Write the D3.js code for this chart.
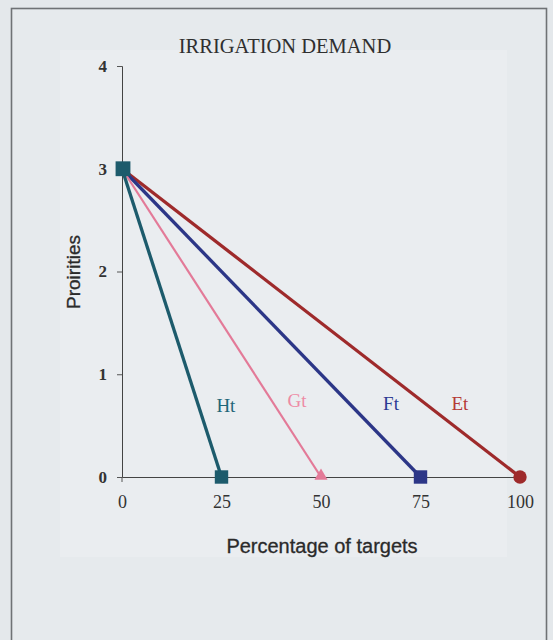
<!DOCTYPE html>
<html>
<head>
<meta charset="utf-8">
<script src="https://cdn.jsdelivr.net/npm/d3@7"></script>
<style>
  html, body { margin: 0; padding: 0; background: #e9ecef; }
  svg { display: block; }
</style>
</head>
<body>
<svg id="chart" width="553" height="640"></svg>
<script>
// Irrigation demand: priority falls linearly from 3 to 0 as the share of targets grows
const seriesNames = ["Et", "Ft", "Gt", "Ht"];
const seriesX = [[0, 100], [0, 75], [0, 50], [0, 25]];
const seriesY = [[3, 0], [3, 0], [3, 0], [3, 0]];
const seriesColors = ["#9e2a2b", "#2c3687", "#e37a98", "#1d5b6c"];
const seriesSymbols = ["circle", "square", "triangle", "square"];
const labelPos = [[84.9, 0.65], [67.6, 0.65], [44, 0.68], [26.1, 0.63]];
const labelColors = ["#b53a36", "#2c3a94", "#ee8aa5", "#1e6678"];
const xTicks = [0, 25, 50, 75, 100];
const yTicks = [0, 1, 2, 3, 4];

const svg = d3.select("#chart");

// page background and frame
svg.append("rect").attr("x", 0).attr("y", 0).attr("width", 553).attr("height", 640).attr("fill", "#e4e8eb");
svg.append("rect").attr("x", 11.5).attr("y", 8.5).attr("width", 535).attr("height", 640)
  .attr("fill", "#e6eaed").attr("stroke", "#6f7275").attr("stroke-width", 1.6);
svg.append("rect").attr("x", 60).attr("y", 50).attr("width", 447).attr("height", 507)
  .attr("fill", "#eaedf0");

const x = d3.scaleLinear().domain([0, 100]).range([122, 520]);
const y = d3.scaleLinear().domain([0, 4]).range([477, 66]);

// axes
const yAxis = d3.axisLeft(y).tickValues(yTicks).tickSize(5).tickPadding(10).tickFormat(d3.format("d"));
const gy = svg.append("g").attr("transform", `translate(${x(0)},0)`).call(yAxis);
gy.select(".domain").attr("stroke", "#444").attr("stroke-width", 1);
gy.selectAll(".tick line").attr("stroke", "#555");
gy.selectAll("text").attr("font-family", "Liberation Serif, serif").attr("font-weight", "bold")
  .attr("font-size", 17).attr("fill", "#333");

const xAxis = d3.axisBottom(x).tickValues(xTicks).tickSize(0).tickPadding(26).tickFormat(d3.format("d"));
const gx = svg.append("g").attr("transform", `translate(0,${y(0)})`).call(xAxis);
gx.select(".domain").attr("stroke", "#444").attr("stroke-width", 1);
gx.selectAll("text").attr("font-family", "Liberation Serif, serif")
  .attr("font-size", 18).attr("fill", "#333").attr("dy", "0.3em");
gx.append("line").attr("x1", x(0)).attr("x2", x(0)).attr("y1", 0).attr("y2", 5).attr("stroke", "#555");

// title and axis titles
svg.append("text").attr("x", 285).attr("y", 53).attr("text-anchor", "middle")
  .attr("font-family", "Liberation Serif, serif").attr("font-size", 20.5).attr("fill", "#2f2f2f")
  .text("IRRIGATION DEMAND");
svg.append("text").attr("x", 322).attr("y", 553).attr("text-anchor", "middle")
  .attr("font-family", "Liberation Sans, Arial, sans-serif").attr("font-size", 20).attr("fill", "#2a2a2a")
  .attr("stroke", "#2a2a2a").attr("stroke-width", 0.3)
  .text("Percentage of targets");
svg.append("text").attr("transform", "translate(80,272) rotate(-90)").attr("text-anchor", "middle")
  .attr("font-family", "Liberation Sans, Arial, sans-serif").attr("font-size", 19).attr("fill", "#2a2a2a")
  .attr("stroke", "#2a2a2a").attr("stroke-width", 0.3)
  .text("Proirities");

// lines
const line = d3.line().x(d => x(d[0])).y(d => y(d[1]));
seriesNames.forEach((name, i) => {
  const pts = seriesX[i].map((v, j) => [v, seriesY[i][j]]);
  svg.append("path").datum(pts).attr("d", line).attr("fill", "none")
    .attr("stroke", seriesColors[i]).attr("stroke-width", i === 2 ? 2.2 : 3.3);
});

// end markers
const symType = { circle: d3.symbolCircle, square: d3.symbolSquare, triangle: d3.symbolTriangle };
const symSize = { circle: 140, square: 180, triangle: 75 };
seriesNames.forEach((name, i) => {
  const last = seriesX[i].length - 1;
  svg.append("path")
    .attr("d", d3.symbol().type(symType[seriesSymbols[i]]).size(symSize[seriesSymbols[i]])())
    .attr("transform", `translate(${x(seriesX[i][last])},${y(seriesY[i][last]) - (seriesSymbols[i] === "triangle" ? 1 : 0)})`)
    .attr("fill", seriesColors[i]);
});
// shared start marker
svg.append("path").attr("d", d3.symbol().type(d3.symbolSquare).size(220)())
  .attr("transform", `translate(${x(seriesX[3][0]) + 1},${y(seriesY[3][0])})`)
  .attr("fill", seriesColors[3]);

// series labels
seriesNames.forEach((name, i) => {
  svg.append("text").attr("x", x(labelPos[i][0])).attr("y", y(labelPos[i][1]))
    .attr("text-anchor", "middle").attr("font-family", "Liberation Serif, serif")
    .attr("font-size", 19).attr("fill", labelColors[i]).text(name);
});
</script>
</body>
</html>
